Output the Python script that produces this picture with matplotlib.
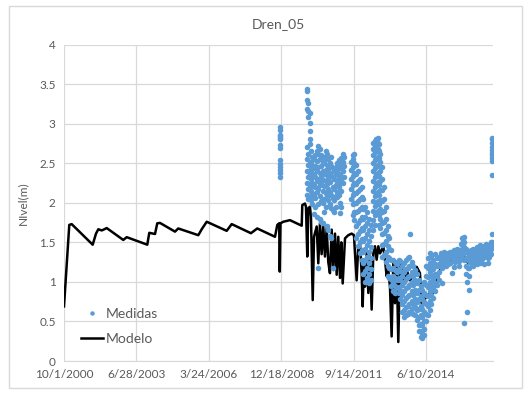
import datetime

import matplotlib
matplotlib.use("Agg")
import matplotlib.pyplot as plt
from matplotlib.patches import Rectangle

# eje x: dias desde 10/1/2000 (como el numero de serie de Excel)
titulo = "Dren_05"
etiqueta_y = "NIvel(m)"
ticks_x_dias = [0, 1000, 2000, 3000, 4000, 5000]
ticks_x_etiquetas = ["10/1/2000", "6/28/2003", "3/24/2006", "12/18/2008", "9/14/2011", "6/10/2014"]
ticks_y = [0, 0.5, 1, 1.5, 2, 2.5, 3, 3.5, 4]
ticks_y_etiquetas = ["0", "0.5", "1", "1.5", "2", "2.5", "3", "3.5", "4"]

# Modelo (linea negra)
modelo_dias = [0, 73, 106, 396, 442, 474, 521, 557, 590, 819, 866, 1150, 1178, 1257, 1288, 1326,
               1533, 1578, 1855, 1902, 1971, 2247, 2316, 2582, 2669, 2914, 2946, 2972, 2980, 2990,
               3029, 3121, 3167, 3283, 3291, 3328, 3342, 3360, 3374, 3397, 3411, 3435, 3453, 3490,
               3512, 3535, 3558, 3581, 3604, 3628, 3650, 3673, 3697, 3719, 3743, 3766, 3788, 3812,
               3830, 3849, 3881, 3926, 3973, 4005, 4019, 4042, 4064, 4088, 4111, 4125, 4143, 4157,
               4180, 4203, 4226, 4249, 4272, 4295, 4318, 4341, 4364, 4387, 4410, 4433, 4456, 4479,
               4502, 4525, 4548, 4571, 4595, 4617, 4640, 4664, 4686, 4733, 4778, 4824, 4871, 4916,
               4940, 4962, 5009, 5055, 5100, 5147, 5193, 5238, 5376, 5514, 5583, 5607, 5699, 5837,
               5911]
modelo_nivel = [0.69, 1.72, 1.73, 1.47, 1.61, 1.665, 1.65, 1.665, 1.68, 1.53, 1.565, 1.47, 1.62, 1.605,
                1.74, 1.745, 1.635, 1.675, 1.59, 1.665, 1.76, 1.645, 1.73, 1.615, 1.675, 1.57, 1.72,
                1.74, 1.13, 1.74, 1.76, 1.78, 1.76, 1.71, 1.97, 1.99, 1.95, 1.32, 1.93, 1.95, 1.82,
                0.77, 1.57, 1.70, 1.235, 1.74, 1.35, 1.70, 1.32, 1.68, 1.25, 1.11, 1.66, 1.15, 1.61,
                1.09, 1.57, 1.05, 1.50, 0.98, 1.55, 1.59, 1.61, 1.59, 1.36, 1.02, 1.45, 1.49, 1.11,
                0.69, 1.28, 0.94, 1.36, 0.86, 1.32, 0.65, 1.36, 1.45, 1.28, 1.45, 1.36, 1.40, 1.45,
                1.28, 1.07, 1.15, 0.94, 0.31, 1.235, 0.73, 1.235, 0.24, 1.19, 1.235, 0.94, 1.15, 1.02,
                1.07, 1.19, 1.11, 0.73, 0.77, 0.81, 0.86, 0.86, 1.02, 1.15, 1.19, 1.28, 1.32, 1.235,
                1.28, 1.28, 1.32, 1.40]

# Medidas (puntos azules), agrupadas por columna de fecha
medidas_col_dias = [
    2978, 2988,
    3352, 3372, 3392, 3412, 3432, 3452, 3472, 3492, 3512, 3532, 3552, 3572, 3592, 3612, 3632,
    3652, 3672, 3692, 3712, 3732, 3752, 3772, 3792, 3812, 3832, 3852, 3872,
    3960, 3985, 4010, 4035, 4060, 4085, 4110, 4135, 4160, 4185, 4210, 4235,
    4270, 4290, 4310, 4330, 4350, 4370, 4395, 4420, 4445, 4470, 4495, 4520,
    4545, 4570, 4595, 4620, 4645, 4670, 4695, 4720, 4745, 4770, 4778, 4800, 4825, 4850, 4875,
    4900, 4925, 4950, 4975, 5000, 5025, 5050, 5075, 5100, 5125, 5150, 5175,
    5200, 5216, 5225, 5250, 5275, 5300, 5325, 5354, 5380, 5405, 5430, 5455, 5480, 5500, 5520,
    5525, 5550, 5566, 5575, 5593, 5600, 5625, 5650, 5675, 5700, 5725, 5750, 5775, 5800, 5825,
    5850, 5875, 5900, 5912,
]
medidas_col_nivel = [
    [2.96, 2.86, 2.82, 2.73, 2.54, 2.45, 2.37],
    [2.92, 2.84, 2.80, 2.69, 2.49, 2.41, 2.33],
    [3.44, 3.41, 3.30, 3.18, 2.71, 2.55, 2.40, 2.25, 2.10],
    [3.26, 3.16, 3.09, 2.62, 2.48, 2.33, 2.18, 2.05],
    [3.13, 3.01, 2.91, 2.80, 2.74, 2.50, 2.36, 2.20, 2.07],
    [2.66, 2.52, 2.43, 2.30, 2.15, 2.04],
    [2.58, 2.47, 2.38, 2.25, 2.12, 1.98],
    [2.55, 2.44, 2.35, 2.22, 2.10, 1.86],
    [2.60, 2.46, 2.32, 2.20, 2.06, 1.95],
    [2.66, 2.53, 2.40, 2.28, 2.14, 1.82],
    [2.72, 2.61, 2.45, 2.30, 2.18, 1.98, 1.17],
    [2.68, 2.55, 2.38, 2.22, 2.08, 1.80],
    [2.60, 2.47, 2.33, 2.26, 2.02, 1.76],
    [2.52, 2.40, 2.29, 2.15, 2.00, 1.74],
    [2.58, 2.50, 2.36, 2.21, 2.05, 1.88],
    [2.66, 2.55, 2.42, 2.28, 2.12, 1.95],
    [2.62, 2.48, 2.35, 2.24, 2.09, 1.70],
    [2.55, 2.43, 2.31, 2.18, 2.03, 1.66],
    [2.50, 2.38, 2.26, 2.14, 1.98, 1.58],
    [2.58, 2.46, 2.34, 2.10, 1.93, 1.55],
    [2.44, 2.33, 2.20, 2.06, 1.91, 1.17],
    [2.40, 2.30, 2.17, 2.03, 1.88],
    [2.45, 2.36, 2.22, 2.09, 1.95],
    [2.50, 2.40, 2.27, 2.14, 2.07],
    [2.54, 2.44, 2.32, 2.20, 2.10],
    [2.48, 2.36, 2.25, 2.00, 1.87],
    [2.56, 2.45, 2.30, 2.15, 1.95],
    [2.62, 2.52, 2.40, 2.25],
    [2.58, 2.47, 2.33],
    [2.52, 2.42, 2.30, 2.18, 2.05],
    [2.60, 2.55, 2.45, 2.34, 2.22, 2.10, 1.98, 1.85],
    [2.62, 2.50, 2.38, 2.25, 2.12, 2.00, 1.88, 1.78],
    [2.48, 2.36, 2.24, 2.12, 2.00, 1.88, 1.70, 1.55],
    [2.40, 2.28, 2.15, 2.02, 1.90, 1.75, 1.60, 1.45],
    [2.30, 2.18, 2.05, 1.92, 1.78, 1.64, 1.50, 1.36],
    [2.20, 2.07, 1.95, 1.82, 1.68, 1.54, 1.40, 1.28],
    [2.05, 1.92, 1.80, 1.66, 1.52, 1.38, 1.24, 1.10],
    [1.95, 1.82, 1.70, 1.56, 1.42, 1.28, 1.14, 1.00],
    [1.88, 1.74, 1.60, 1.46, 1.32, 1.18, 1.05],
    [1.80, 1.66, 1.52, 1.38, 1.24, 1.10, 0.98],
    [1.72, 1.58, 1.44, 1.30, 1.16, 1.02],
    [2.75, 2.68, 2.60, 2.50, 2.40, 2.28, 2.15, 2.02, 1.90, 1.78, 1.65],
    [2.78, 2.72, 2.64, 2.54, 2.44, 2.32, 2.20, 2.08, 1.96, 1.84, 1.72],
    [2.80, 2.74, 2.66, 2.56, 2.46, 2.36, 2.24, 2.12, 2.00, 1.88],
    [2.82, 2.76, 2.68, 2.58, 2.48, 2.38, 2.26, 2.14, 2.02, 1.90],
    [2.74, 2.66, 2.56, 2.46, 2.34, 2.22, 2.10, 1.98, 1.85, 1.72],
    [2.62, 2.52, 2.40, 2.28, 2.16, 2.04, 1.92, 1.80, 1.68],
    [2.45, 2.30, 2.16, 2.02, 1.88, 1.74, 1.60, 1.46, 1.32],
    [2.20, 2.05, 1.90, 1.76, 1.62, 1.48, 1.34],
    [1.95, 1.80, 1.66, 1.52, 1.38, 1.25],
    [1.70, 1.58, 1.45, 1.32, 1.20, 1.08],
    [1.55, 1.42, 1.30, 1.18, 1.05],
    [1.40, 1.28, 1.16, 1.04, 0.95],
    [1.28, 1.18, 1.08, 0.98, 0.88],
    [1.25, 1.15, 1.05, 0.95, 0.86],
    [1.22, 1.12, 1.02, 0.92],
    [1.28, 1.16, 1.05, 0.94, 0.86],
    [1.26, 1.14, 1.02, 0.90, 0.78],
    [1.20, 1.08, 0.96, 0.84, 0.72, 0.62],
    [1.24, 1.12, 1.00, 0.88, 0.76, 0.65, 0.55],
    [1.28, 1.16, 1.04, 0.92, 0.80, 0.68, 0.58],
    [1.30, 1.18, 1.06, 0.94, 0.82, 0.70, 0.60],
    [1.32, 1.20, 1.08, 0.96, 0.84, 0.72, 0.62],
    [1.61],
    [1.25, 1.12, 1.00, 0.88, 0.76, 0.66],
    [1.20, 1.08, 0.96, 0.84, 0.72, 0.60],
    [1.15, 1.02, 0.90, 0.78, 0.68, 0.58],
    [1.10, 0.98, 0.86, 0.75, 0.64, 0.52],
    [1.02, 0.90, 0.78, 0.66, 0.55, 0.45, 0.38],
    [0.95, 0.82, 0.70, 0.58, 0.47, 0.38, 0.30],
    [0.90, 0.78, 0.66, 0.55, 0.45, 0.36, 0.29],
    [1.00, 0.86, 0.74, 0.62, 0.50, 0.40, 0.33],
    [1.20, 1.08, 0.96, 0.84, 0.72, 0.60, 0.50],
    [1.30, 1.18, 1.06, 0.94, 0.82, 0.70, 0.58],
    [1.36, 1.24, 1.12, 1.00, 0.88, 0.76, 0.65],
    [1.32, 1.20, 1.08, 0.96, 0.84, 0.72],
    [1.28, 1.16, 1.04, 0.92, 0.80],
    [1.35, 1.22, 1.10, 0.98, 0.88],
    [1.30, 1.20, 1.08, 0.96],
    [1.32, 1.22, 1.12, 1.02],
    [1.36, 1.28, 1.20],
    [0.98],
    [1.34, 1.26, 1.18],
    [1.38, 1.30, 1.22],
    [1.35, 1.28, 1.20],
    [1.36, 1.30, 1.22],
    [1.38, 1.31, 1.24],
    [1.11, 1.30, 1.38],
    [1.40, 1.33, 1.26, 1.19],
    [1.38, 1.32, 1.25],
    [1.42, 1.35, 1.28],
    [1.40, 1.34, 1.27, 1.20],
    [1.48, 1.40, 1.32],
    [1.55, 1.49, 1.42, 1.35],
    [0.48],
    [1.57, 1.50, 1.44, 1.36, 1.28],
    [1.42, 1.30, 1.20, 1.10],
    [1.00, 0.62],
    [1.38, 1.28, 1.18],
    [0.90],
    [1.34, 1.26, 1.18, 1.08],
    [1.40, 1.32, 1.24],
    [1.42, 1.35, 1.28, 1.20],
    [1.38, 1.32, 1.25],
    [1.44, 1.37, 1.30, 1.22],
    [1.40, 1.34, 1.27],
    [1.46, 1.39, 1.32, 1.24],
    [1.42, 1.36, 1.29],
    [1.45, 1.38, 1.31, 1.22],
    [1.48, 1.40, 1.33],
    [1.44, 1.37, 1.30, 1.24],
    [1.46, 1.39, 1.32],
    [1.50, 1.42, 1.35],
    [2.82, 2.80, 2.75, 2.70, 2.67, 2.63, 2.60, 2.57, 2.53, 2.35, 1.61, 1.51, 1.45],
]

medidas_x = []
medidas_y = []
for d, col in zip(medidas_col_dias, medidas_col_nivel):
    for v in col:
        medidas_x.append(d)
        medidas_y.append(v)

gris_texto = "#595959"
gris_linea = "#D9D9D9"
azul = "#5B9BD5"

plt.rcParams['font.family'] = ['Lato', 'DejaVu Sans']

fig = plt.figure(figsize=(5.32, 3.94), dpi=100)
ax = fig.add_axes([64 / 532, 33 / 394, 429 / 532, 316.5 / 394])

ax.plot(medidas_x, medidas_y, 'o', color=azul, markersize=4.0, markeredgewidth=0,
        label='Medidas', zorder=3)
ax.plot(modelo_dias, modelo_nivel, '-', color='black', linewidth=1.8, label='Modelo', zorder=2)

ax.set_xlim(0, 5925)
ax.set_ylim(0, 4)
ax.set_xticks(ticks_x_dias)
ax.set_xticklabels(ticks_x_etiquetas)
ax.set_yticks(ticks_y)
ax.set_yticklabels(ticks_y_etiquetas)
ax.tick_params(length=0, colors=gris_texto, labelsize=8.5, pad=6)
ax.grid(True, color=gris_linea, linewidth=0.9)
ax.set_axisbelow(True)
for s in ['top', 'right', 'left']:
    ax.spines[s].set_visible(False)
ax.spines['bottom'].set_color(gris_linea)

ax.set_title(titulo, color=gris_texto, fontsize=10, pad=12)
ax.set_ylabel(etiqueta_y, color=gris_texto, fontsize=8.5, labelpad=8)

leg = ax.legend(loc='lower left', bbox_to_anchor=(0.01, 0.01), frameon=False, fontsize=10,
                handlelength=1.6, handletextpad=0.2, labelspacing=0.95, markerscale=0.8)
for t in leg.get_texts():
    t.set_color(gris_texto)

fig.patches.append(Rectangle((9 / 532, 6 / 394), 513 / 532, 382 / 394, transform=fig.transFigure,
                             fill=False, edgecolor=gris_linea, linewidth=1))

fig.savefig('out.png', dpi=100)
